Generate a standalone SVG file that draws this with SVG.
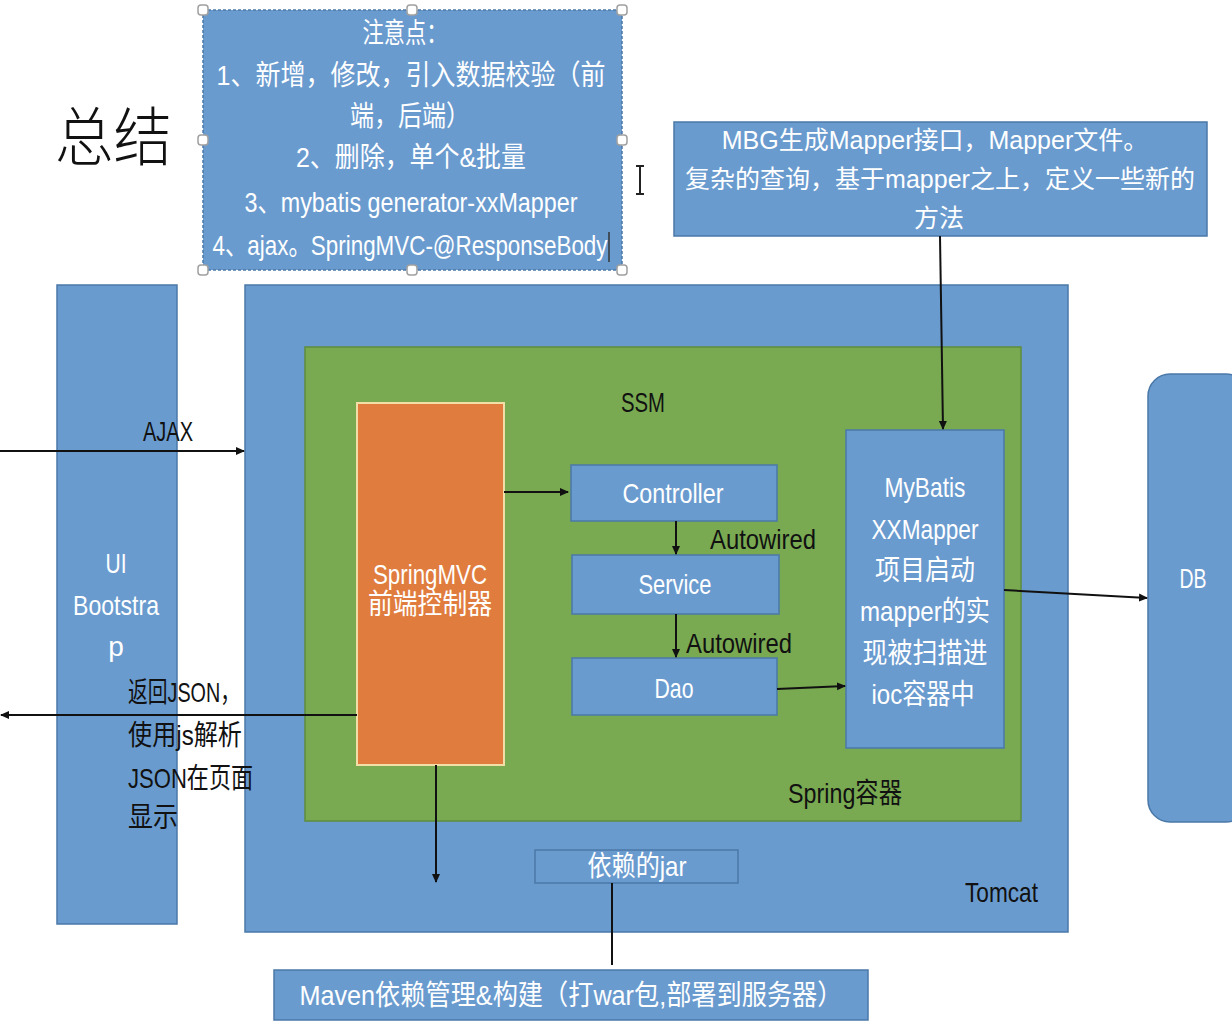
<svg xmlns="http://www.w3.org/2000/svg" width="1232" height="1022" viewBox="0 0 1232 1022">
<style>
.box{fill:#6a9bcf;stroke:#4a78a8;stroke-width:1.5}
.t{font-family:"Liberation Sans","Noto Sans CJK SC",sans-serif;font-size:28px}
.m{font-size:25px}
.w{fill:#ffffff}
.k{fill:#111111}
.c{text-anchor:middle}
.ln{stroke:#111;stroke-width:2;fill:none}
.h{fill:#ffffff;stroke:#a0a0a0;stroke-width:1.5}
</style>
<defs>
<marker id="ah" markerWidth="10" markerHeight="10" refX="8" refY="5" orient="auto" markerUnits="userSpaceOnUse">
<path d="M0,1 L9,5 L0,9 Z" fill="#111"/>
</marker>
</defs>
<rect width="1232" height="1022" fill="#ffffff"/>

<g id="title">
<text x="55" y="160" font-family="Noto Sans CJK SC,sans-serif" font-size="64" font-weight="300" fill="#111" textLength="117" lengthAdjust="spacingAndGlyphs">总结</text>
</g>

<g id="notes">
<rect x="203" y="10" width="419" height="260" class="box" stroke-dasharray="3,2"/>
<text class="t w c" x="405" y="43" textLength="85" lengthAdjust="spacingAndGlyphs">注意点：</text>
<text class="t w c" x="411" y="85" textLength="389" lengthAdjust="spacingAndGlyphs">1、新增，修改，引入数据校验（前</text>
<text class="t w c" x="410" y="126" textLength="120" lengthAdjust="spacingAndGlyphs">端，后端）</text>
<text class="t w c" x="411" y="167" textLength="230" lengthAdjust="spacingAndGlyphs">2、删除，单个&amp;批量</text>
<text class="t w c" x="411" y="212" textLength="333" lengthAdjust="spacingAndGlyphs">3、mybatis generator-xxMapper</text>
<text class="t w c" x="410" y="255" textLength="395" lengthAdjust="spacingAndGlyphs">4、ajax。SpringMVC-@ResponseBody</text>
<line x1="609" y1="232" x2="609" y2="262" stroke="#333" stroke-width="1.5"/>
<rect x="198" y="5" width="10" height="10" rx="3" class="h"/>
<rect x="407" y="5" width="10" height="10" rx="3" class="h"/>
<rect x="617" y="5" width="10" height="10" rx="3" class="h"/>
<rect x="198" y="135" width="10" height="10" rx="3" class="h"/>
<rect x="617" y="135" width="10" height="10" rx="3" class="h"/>
<rect x="198" y="265" width="10" height="10" rx="3" class="h"/>
<rect x="407" y="265" width="10" height="10" rx="3" class="h"/>
<rect x="617" y="265" width="10" height="10" rx="3" class="h"/>
</g>

<g id="cursor">
<path d="M636,166 H644 M640,166 V194 M636,194 H644" stroke="#222" stroke-width="2" fill="none"/>
</g>

<g id="mbg">
<rect x="674" y="122" width="533" height="114" class="box"/>
<text class="t m w c" x="935" y="149">MBG生成Mapper接口，Mapper文件。</text>
<text class="t m w c" x="940" y="188">复杂的查询，基于mapper之上，定义一些新的</text>
<text class="t m w c" x="939" y="227">方法</text>
</g>

<g id="ui">
<rect x="57" y="285" width="120" height="639" class="box"/>
<text class="t w c" x="116" y="573" textLength="21" lengthAdjust="spacingAndGlyphs">UI</text>
<text class="t w c" x="116" y="615" textLength="86" lengthAdjust="spacingAndGlyphs">Bootstra</text>
<text class="t w c" x="116" y="656">p</text>
</g>

<g id="tomcat">
<rect x="245" y="285" width="823" height="647" class="box"/>
<text class="t k" x="965" y="902" textLength="73" lengthAdjust="spacingAndGlyphs">Tomcat</text>
</g>

<g id="spring">
<rect x="305" y="347" width="716" height="474" fill="#79aa52" stroke="#5e8c3c" stroke-width="1.5"/>
<text class="t k" x="621" y="412" textLength="44" lengthAdjust="spacingAndGlyphs">SSM</text>
<text class="t k" x="788" y="803" textLength="114" lengthAdjust="spacingAndGlyphs">Spring容器</text>
</g>

<g id="springmvc">
<rect x="357" y="403" width="147" height="362" fill="#e07d3e" stroke="#f2dfa8" stroke-width="2"/>
<text class="t w c" x="430" y="584" textLength="114" lengthAdjust="spacingAndGlyphs">SpringMVC</text>
<text class="t w c" x="430" y="614" textLength="124" lengthAdjust="spacingAndGlyphs">前端控制器</text>
</g>

<g id="controller">
<rect x="571" y="465" width="206" height="56" class="box"/>
<text class="t w c" x="673" y="503" textLength="101" lengthAdjust="spacingAndGlyphs">Controller</text>
</g>
<g id="service">
<rect x="572" y="555" width="207" height="59" class="box"/>
<text class="t w c" x="675" y="594" textLength="73" lengthAdjust="spacingAndGlyphs">Service</text>
</g>
<g id="dao">
<rect x="572" y="658" width="205" height="57" class="box"/>
<text class="t w c" x="674" y="698" textLength="39" lengthAdjust="spacingAndGlyphs">Dao</text>
</g>

<g id="mybatis">
<rect x="846" y="430" width="158" height="318" class="box"/>
<text class="t w c" x="925" y="497" textLength="81" lengthAdjust="spacingAndGlyphs">MyBatis</text>
<text class="t w c" x="925" y="539" textLength="107" lengthAdjust="spacingAndGlyphs">XXMapper</text>
<text class="t w c" x="925" y="580" textLength="100" lengthAdjust="spacingAndGlyphs">项目启动</text>
<text class="t w c" x="925" y="621" textLength="130" lengthAdjust="spacingAndGlyphs">mapper的实</text>
<text class="t w c" x="925" y="663" textLength="125" lengthAdjust="spacingAndGlyphs">现被扫描进</text>
<text class="t w c" x="923" y="704" textLength="103" lengthAdjust="spacingAndGlyphs">ioc容器中</text>
</g>

<g id="db">
<rect x="1148" y="374" width="100" height="448" rx="22" class="box"/>
<text class="t w c" x="1193" y="588" textLength="27" lengthAdjust="spacingAndGlyphs">DB</text>
</g>

<g id="jar">
<rect x="535" y="850" width="203" height="33" class="box" stroke="#5580b0"/>
<text class="t w c" x="637" y="876" textLength="99" lengthAdjust="spacingAndGlyphs">依赖的jar</text>
</g>

<g id="maven">
<rect x="274" y="970" width="594" height="50" class="box"/>
<text class="t w c" x="571" y="1005" textLength="543" lengthAdjust="spacingAndGlyphs">Maven依赖管理&amp;构建（打war包,部署到服务器）</text>
</g>

<g id="connectors">
<line class="ln" x1="0" y1="451" x2="244" y2="451" marker-end="url(#ah)"/>
<line class="ln" x1="504" y1="492" x2="568" y2="492" marker-end="url(#ah)"/>
<line class="ln" x1="676" y1="521" x2="676" y2="554" marker-end="url(#ah)"/>
<line class="ln" x1="676" y1="614" x2="676" y2="657" marker-end="url(#ah)"/>
<line class="ln" x1="777" y1="689" x2="845" y2="686" marker-end="url(#ah)"/>
<line class="ln" x1="940" y1="236" x2="943" y2="429" marker-end="url(#ah)"/>
<line class="ln" x1="1004" y1="590" x2="1147" y2="598" marker-end="url(#ah)"/>
<line class="ln" x1="357" y1="715" x2="1" y2="715" marker-end="url(#ah)"/>
<line class="ln" x1="436" y1="765" x2="436" y2="882" marker-end="url(#ah)"/>
<line class="ln" x1="612" y1="883" x2="612" y2="965"/>
</g>

<g id="labels">
<text class="t k" x="143" y="441" textLength="50" lengthAdjust="spacingAndGlyphs">AJAX</text>
<text class="t k" x="710" y="549" textLength="106" lengthAdjust="spacingAndGlyphs">Autowired</text>
<text class="t k" x="686" y="653" textLength="106" lengthAdjust="spacingAndGlyphs">Autowired</text>
<text class="t k" x="128" y="702" textLength="112" lengthAdjust="spacingAndGlyphs">返回JSON，</text>
<text class="t k" x="128" y="745" textLength="114" lengthAdjust="spacingAndGlyphs">使用js解析</text>
<text class="t k" x="128" y="788" textLength="125" lengthAdjust="spacingAndGlyphs">JSON在页面</text>
<text class="t k" x="128" y="827" textLength="50" lengthAdjust="spacingAndGlyphs">显示</text>
</g>
</svg>
